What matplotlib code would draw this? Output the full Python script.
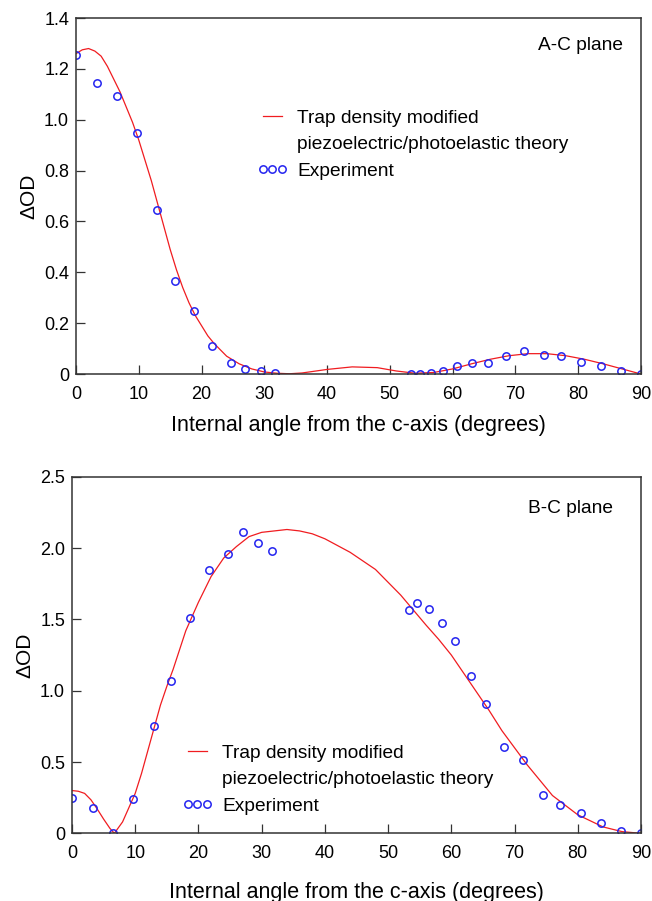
import numpy as np
import matplotlib
matplotlib.use("Agg")
import matplotlib.pyplot as plt
from matplotlib.lines import Line2D

plt.rcParams['font.family'] = ['Liberation Sans', 'DejaVu Sans']

# A-C plane
ac_exp_x = [0, 3.3, 6.5, 9.7, 12.9, 15.7, 18.8, 21.7, 24.7, 27.0, 29.5, 31.7,
            53.4, 54.8, 56.5, 58.5, 60.7, 63.1, 65.6, 68.5, 71.4, 74.5, 77.3,
            80.5, 83.6, 86.8, 90.0]
ac_exp_y = [1.254, 1.143, 1.092, 0.948, 0.645, 0.367, 0.248, 0.111, 0.043, 0.018,
            0.010, 0.005, 0.0, 0.0, 0.005, 0.010, 0.030, 0.043, 0.043, 0.070,
            0.089, 0.073, 0.070, 0.047, 0.031, 0.013, 0.0]
ac_fit_x = [0, 1, 2, 3, 4, 5, 6, 7, 8, 9, 10, 11, 12, 13, 14, 15, 16, 17, 18, 19,
            20, 21, 22, 24, 26, 28, 30, 32, 34, 36, 40, 44, 48, 51, 54, 57, 60,
            63, 66, 69, 72, 75, 78, 81, 84, 87, 90]
ac_fit_y = [1.26, 1.275, 1.28, 1.27, 1.25, 1.21, 1.16, 1.11, 1.05, 0.99, 0.92,
            0.84, 0.76, 0.67, 0.58, 0.49, 0.41, 0.34, 0.28, 0.23, 0.19, 0.15,
            0.12, 0.07, 0.04, 0.02, 0.008, 0.003, 0.001, 0.004, 0.018, 0.028,
            0.025, 0.012, 0.003, 0.006, 0.02, 0.04, 0.058, 0.072, 0.08, 0.08,
            0.072, 0.058, 0.04, 0.02, 0.0]

# B-C plane
bc_exp_x = [0, 3.3, 6.5, 9.6, 12.9, 15.6, 18.7, 21.7, 24.6, 27.0, 29.4, 31.6,
            53.3, 54.6, 56.4, 58.5, 60.6, 63.1, 65.5, 68.4, 71.4, 74.5, 77.2,
            80.5, 83.6, 86.9, 90.0]
bc_exp_y = [0.247, 0.18, 0.004, 0.238, 0.754, 1.067, 1.511, 1.845, 1.96, 2.11,
            2.036, 1.976, 1.565, 1.616, 1.572, 1.478, 1.35, 1.10, 0.908, 0.603,
            0.514, 0.268, 0.20, 0.144, 0.07, 0.018, 0.0]
bc_fit_x = [0, 1, 2, 3, 4, 5, 6, 6.7, 8, 9, 10, 11, 12, 13, 14, 15, 16, 18, 20,
            22, 24, 26, 28, 30, 32, 34, 36, 38, 40, 44, 48, 52, 56, 58, 60, 62,
            64, 66, 68, 72, 76, 80, 84, 87, 90]
bc_fit_y = [0.30, 0.295, 0.28, 0.235, 0.17, 0.10, 0.035, 0.0, 0.08, 0.18, 0.28,
            0.42, 0.58, 0.74, 0.90, 1.03, 1.15, 1.42, 1.62, 1.80, 1.93, 2.01,
            2.08, 2.11, 2.12, 2.13, 2.12, 2.10, 2.065, 1.97, 1.85, 1.67, 1.46,
            1.36, 1.25, 1.12, 0.99, 0.86, 0.72, 0.48, 0.265, 0.13, 0.045,
            0.012, 0.0]

x_ticks = [0, 10, 20, 30, 40, 50, 60, 70, 80, 90]
ac_yticks = [0, 0.2, 0.4, 0.6, 0.8, 1.0, 1.2, 1.4]
ac_ylabels = ['0', '0.2', '0.4', '0.6', '0.8', '1.0', '1.2', '1.4']
bc_yticks = [0, 0.5, 1.0, 1.5, 2.0, 2.5]
bc_ylabels = ['0', '0.5', '1.0', '1.5', '2.0', '2.5']

RED = '#f01c20'
BLUE = '#2424f0'
TICK_FS = 13
TEXT_FS = 13.75

fig = plt.figure(figsize=(6.52, 9.01), dpi=100)
ax1 = fig.add_axes([0.1166, 0.5849, 0.8664, 0.3951])
ax2 = fig.add_axes([0.1104, 0.0751, 0.8727, 0.3958])


def style(ax, yticks, ylabels, ymax, plane, xpad):
    ax.set_xlim(0, 90)
    ax.set_ylim(0, ymax)
    ax.set_xticks(x_ticks)
    ax.set_yticks(yticks)
    ax.set_yticklabels(ylabels)
    ax.tick_params(direction='in', length=6.5, width=0.9, labelsize=TICK_FS,
                   color='#333333', top=False, right=False)
    ax.tick_params(axis='x', pad=8.5)
    ax.tick_params(axis='y', pad=5)
    for s in ax.spines.values():
        s.set_linewidth(1.1)
        s.set_color('#333333')
    ax.set_xlabel('Internal angle from the c-axis (degrees)', fontsize=15.5,
                  labelpad=xpad)
    ax.set_ylabel('\u0394OD', fontsize=15, labelpad=4)
    ax.text(plane[1], plane[2], plane[0], transform=ax.transAxes,
            ha='right', va='center', fontsize=TEXT_FS)


def legend(ax, x, y):
    h = [Line2D([], [], color=RED, lw=0.9),
         Line2D([], [], linestyle='none'),
         Line2D([], [], linestyle='none', marker='o', markerfacecolor='none',
                markeredgecolor=BLUE, markersize=5.3, markeredgewidth=1.1)]
    labels = ['Trap density modified', 'piezoelectric/photoelastic theory',
              'Experiment']
    ax.legend(h, labels, loc='upper left', bbox_to_anchor=(x, y),
              frameon=False, fontsize=TEXT_FS, numpoints=3, borderpad=0,
              borderaxespad=0, handlelength=1.6, handletextpad=0.52,
              labelspacing=0.48)


ax1.plot(ac_fit_x, ac_fit_y, color=RED, lw=0.9)
ax1.plot(ac_exp_x, ac_exp_y, linestyle='none', marker='o',
         markerfacecolor='none', markeredgecolor=BLUE, markersize=5.3,
         markeredgewidth=1.1)
style(ax1, ac_yticks, ac_ylabels, 1.4, ('A-C plane', 0.968, 0.924), 8.5)
legend(ax1, 0.320, 0.743)

ax2.plot(bc_fit_x, bc_fit_y, color=RED, lw=0.9)
ax2.plot(bc_exp_x, bc_exp_y, linestyle='none', marker='o',
         markerfacecolor='none', markeredgecolor=BLUE, markersize=5.3,
         markeredgewidth=1.1)
style(ax2, bc_yticks, bc_ylabels, 2.5, ('B-C plane', 0.950, 0.911), 14)
legend(ax2, 0.193, 0.249)

fig.savefig('out.png', dpi=100)
